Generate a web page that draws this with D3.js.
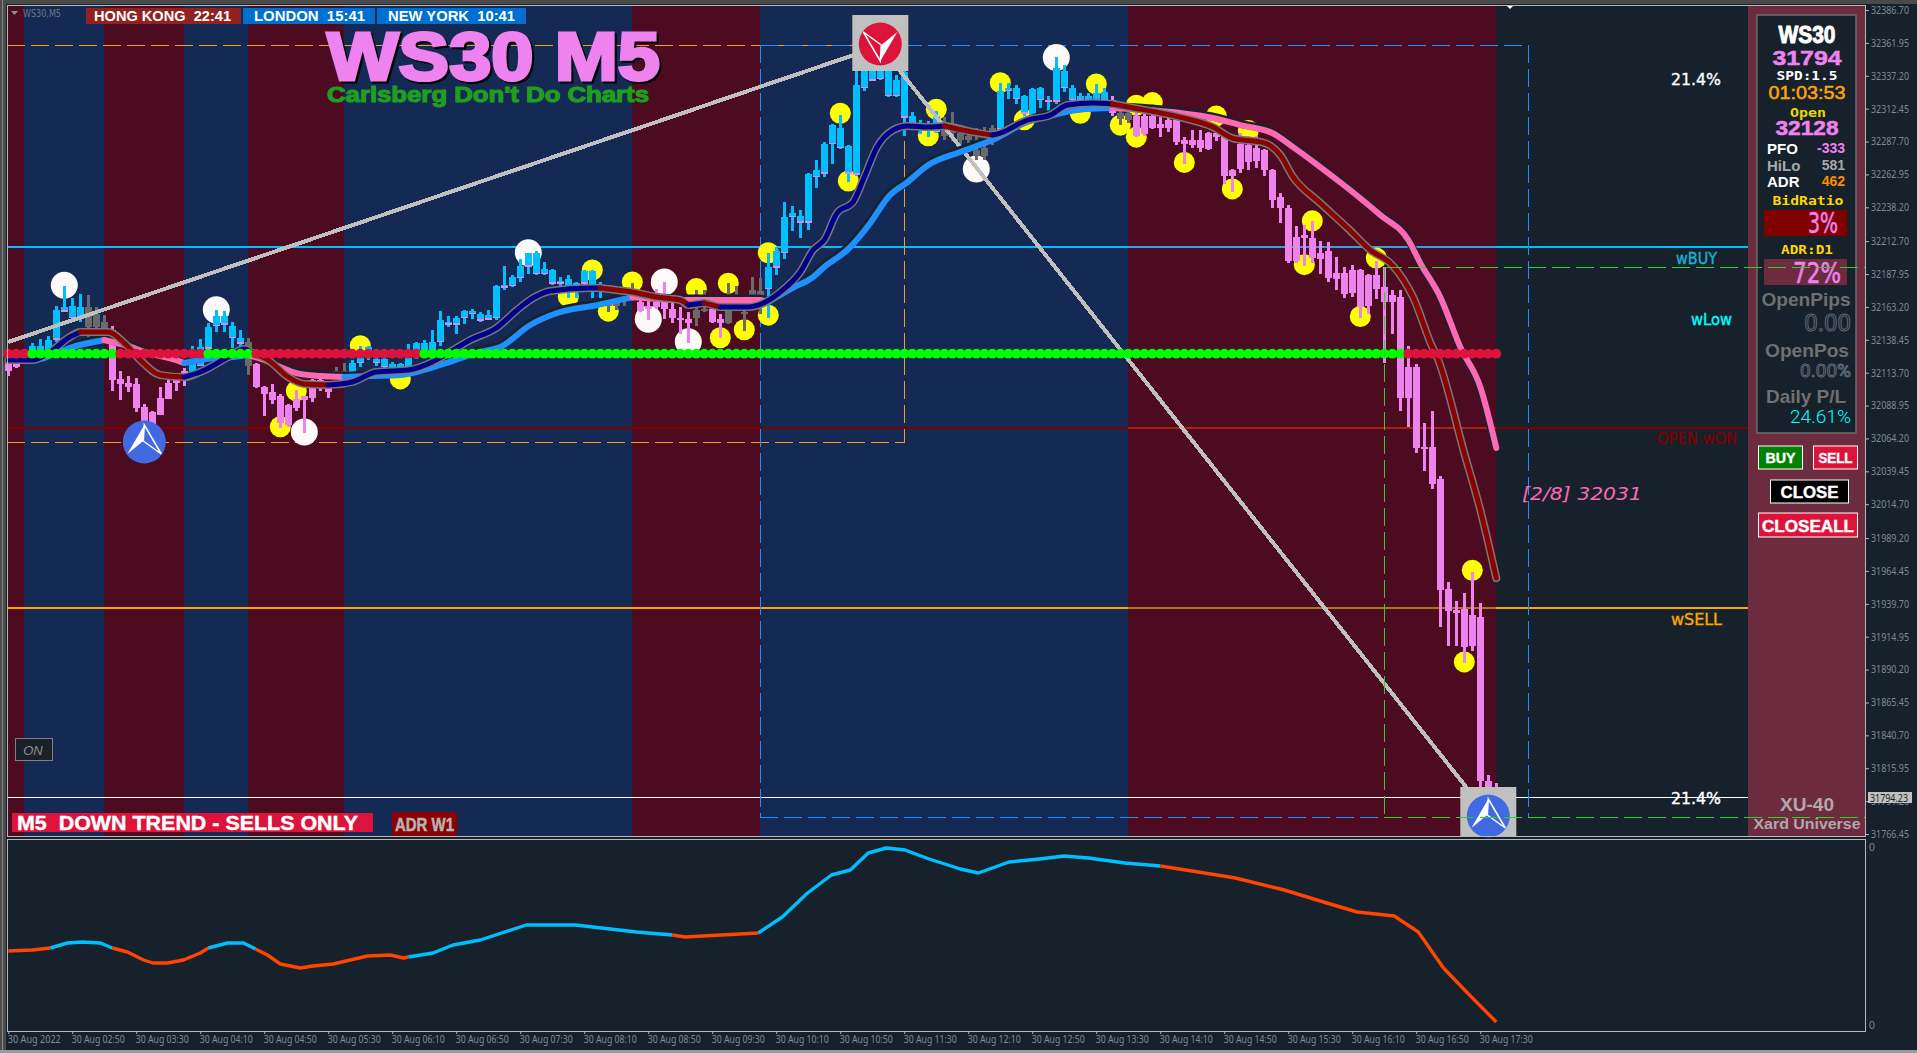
<!DOCTYPE html>
<html><head><meta charset="utf-8"><script src="https://cdn.jsdelivr.net/npm/d3@7/dist/d3.min.js"></script>
<style>html,body{margin:0;padding:0;background:#16212c;overflow:hidden}svg{display:block}text{white-space:pre}</style></head><body>
<svg id="c" width="1917" height="1053"></svg>
<script>
// ---------- data ----------
const highs=[32121,32121,32129,32136,32139,32141,32164,32179,32170,32173,
32172,32163,32157,32149,32115,32111,32110,32090,32085,32103,
32108,32113,32117,32134,32139,32151,32161,32160,32152,32146,
32140,32121,32104,32105,32098,32090,32101,32096,32109,32109,
32102,32118,32121,32123,32134,32134,32129,32127,32122,32121,
32135,32137,32138,32146,32160,32156,32156,32161,32162,32159,
32161,32180,32194,32187,32199,32204,32205,32197,32192,32186,
32187,32182,32191,32191,32182,32171,32171,32176,32181,32172,
32168,32177,32182,32166,32163,32159,32176,32176,32166,32158,
32181,32179,32164,32186,32185,32204,32208,32242,32239,32236,
32264,32274,32287,32301,32308,32285,32342,32349,32350,32350,
32350,32338,32341,32310,32304,32303,32311,32306,32310,32300,
32298,32298,32299,32300,32332,32332,32330,32323,32328,32329,
32322,32351,32345,32330,32324,32324,32331,32328,32322,32315,
32315,32311,32311,32316,32306,32307,32305,32291,32296,32296,
32295,32296,32296,32267,32294,32292,32292,32282,32267,32249,
32240,32224,32225,32228,32213,32212,32201,32193,32195,32192,
32188,32198,32193,32176,32176,32134,32120,32076,32085,32036,
31956,31942,31948,31964,31940,31811,31805];
const lows=[32111,32117,32121,32124,32125,32127,32137,32159,32153,32152,
32140,32146,32142,32100,32093,32099,32084,32069,32069,32082,
32094,32100,32104,32113,32119,32130,32144,32144,32132,32130,
32112,32102,32081,32090,32072,32073,32085,32068,32092,32100,
32095,32113,32113,32112,32118,32123,32119,32117,32115,32115,
32117,32124,32126,32127,32134,32148,32143,32150,32154,32152,
32153,32153,32176,32178,32182,32188,32187,32187,32180,32176,
32170,32170,32180,32170,32170,32159,32161,32164,32168,32159,
32153,32162,32154,32151,32143,32136,32149,32159,32151,32140,
32150,32168,32145,32171,32158,32155,32187,32199,32220,32215,
32221,32253,32261,32271,32282,32257,32262,32326,32333,32334,
32321,32321,32292,32300,32293,32291,32294,32289,32288,32286,
32286,32274,32274,32285,32296,32320,32316,32307,32306,32313,
32311,32316,32325,32317,32317,32317,32317,32317,32307,32300,
32302,32291,32292,32297,32291,32295,32285,32271,32283,32280,
32281,32288,32256,32250,32264,32266,32268,32262,32238,32226,
32196,32196,32194,32196,32188,32182,32176,32170,32171,32155,
32158,32169,32121,32143,32085,32073,32053,32040,32026,31922,
31908,31908,31895,31904,31802,31783,31788];
const opens=[32121,32121,32123,32125,32129,32130,32139,32160,32155,32155,
32163,32158,32152,32146,32109,32106,32105,32088,32084,32095,
32106,32112,32115,32113,32119,32132,32149,32150,32140,32136,
32137,32120,32103,32099,32096,32089,32094,32096,32108,32108,
32102,32115,32115,32114,32121,32126,32121,32118,32117,32117,
32118,32127,32129,32129,32137,32150,32150,32155,32158,32153,
32154,32155,32178,32179,32185,32194,32188,32188,32181,32181,
32174,32176,32181,32179,32176,32170,32170,32174,32177,32167,
32164,32167,32167,32162,32155,32154,32161,32162,32162,32154,
32160,32172,32159,32176,32175,32177,32193,32204,32231,32227,
32227,32261,32264,32286,32283,32264,32263,32328,32334,32335,
32322,32322,32306,32302,32299,32298,32295,32292,32300,32294,
32292,32281,32283,32298,32297,32326,32320,32309,32308,32319,
32318,32318,32328,32319,32319,32319,32319,32319,32319,32309,
32309,32307,32307,32307,32301,32304,32304,32289,32289,32289,
32294,32294,32292,32266,32286,32285,32283,32281,32266,32246,
32238,32216,32217,32215,32204,32205,32189,32189,32191,32191,
32187,32187,32178,32172,32171,32118,32118,32058,32058,32034,
31951,31935,31936,31931,31930,31806,31801];
const closes=[32115,32118,32127,32134,32134,32138,32161,32163,32164,32163,
32148,32148,32147,32108,32105,32103,32087,32076,32074,32082,
32094,32106,32109,32130,32133,32148,32156,32156,32149,32140,
32119,32103,32098,32093,32076,32074,32087,32093,32095,32102,
32099,32114,32113,32121,32125,32133,32124,32124,32120,32120,
32125,32136,32136,32137,32153,32152,32155,32160,32160,32158,
32157,32179,32180,32186,32194,32204,32204,32192,32191,32183,
32184,32181,32190,32190,32179,32164,32164,32168,32172,32160,
32162,32163,32162,32155,32153,32151,32155,32160,32152,32151,
32151,32168,32158,32171,32170,32193,32205,32231,32234,32232,
32263,32266,32286,32300,32298,32284,32330,32344,32345,32345,
32347,32334,32340,32307,32302,32301,32307,32300,32294,32289,
32289,32277,32277,32292,32326,32328,32328,32322,32327,32328,
32319,32343,32341,32328,32322,32322,32324,32325,32309,32305,
32304,32292,32293,32298,32298,32298,32287,32286,32285,32283,
32282,32291,32262,32262,32267,32272,32273,32266,32244,32238,
32198,32198,32215,32200,32199,32185,32184,32173,32174,32163,
32164,32177,32167,32167,32095,32095,32057,32057,32030,31950,
31934,31933,31907,31908,31806,31792,31794];
const greyBars=[10,11,12,30,41,42,75,76,77,78,86,87,90,91,92,93,94,117,118,119,120,121,122,123,139,140];

const slowBars=[0,2,4,6,8,10,12,13,15,17,19,21,22,24,26,28,30,32,34,36,39,42,45,49,51,54,57,59,61.5,65.25,68.6,73.6,78,84,88,94,95,98,100.6,102,105,107.75,110,112.4,115,119,123,127.4,130.6,133.6,138,146.5,150.6,154,158,160.6,164,167.4,171.5,175,176.5,179,181.5,184,186];
const slowEma=[32122.5,32123.2,32124,32128.5,32133,32136,32138.3,32136.8,32133.8,32129.3,32126.2,32123.2,32121,32123.2,32124.7,32125.5,32127,32123.2,32118,32113.4,32111.2,32110.4,32111.2,32112,32114.2,32119.5,32125.5,32129.3,32133,32149.6,32158.6,32164.6,32170.6,32168.4,32168.4,32168.4,32166.9,32177.4,32185.7,32193.2,32206.8,32226.4,32246,32257.2,32270,32279.8,32288.8,32302.4,32307.6,32311.4,32312.9,32309.1,32305.4,32300.1,32294.1,32283.5,32268.5,32252.7,32232.4,32213.6,32196.2,32170.6,32133,32102.9,32057];
const slowDown=[[12,22],[30,42],[78,95],[138,186]];

const fastBars=[0,3,5.25,7.5,9,12.5,14.5,16.5,19,22,24,27.5,29.5,30.5,32.5,35,37,40,43,46,50,53,55,57.75,61,63.6,65.6,67.75,72.75,74,75,78,81,84,85,87,89,92.4,94.4,96.5,99,100.6,102,103.6,105.6,107,108.6,110.6,112.4,115,117,120.6,123,124,127.4,130.25,132.4,135.6,138,140,146.4,150.6,153,157,159,160.6,164,167.4,170.25,173,175.6,178,178.6,182,184,186];
const fastEma=[32123.2,32123.2,32129.3,32139.8,32144.3,32144.3,32136,32123.2,32111.9,32110.4,32114.2,32125.5,32131.5,32128.5,32123.2,32110.4,32105.2,32104.4,32106.7,32114.2,32115.7,32121.7,32128.5,32138.3,32147.3,32160.9,32169.9,32175.2,32177.4,32177.4,32176.7,32174.4,32170.6,32168.4,32164.6,32166.1,32163.1,32163.1,32166.1,32174.4,32189.5,32206,32213.6,32233.9,32242.2,32261,32283.5,32296.3,32299.4,32298.6,32299.4,32294.8,32292.6,32294.1,32303.9,32307.6,32315.2,32316.7,32315.9,32313.7,32306.1,32298.6,32290.3,32286.6,32277.5,32261,32241.4,32222.6,32206,32194.7,32170.6,32133,32125.5,32053.2,32010.3,31959.1];
const fastDown=[[9,22],[30.5,40],[74,85],[87,89],[117,123],[138,186]];

const signalLevel=32128;
const greenRuns=[[3,13],[25,30],[52,174]];
const lastBar=186;

const whiteBars=[7,26,37,65,82,80,85,131,121];
const whitePrices=[32179.5,32161,32069,32204,32182,32154,32137,32351,32267];
const yellowBars=[44,49,36,34,73,70,75,78,86,90,89,92,95,95,104,105,115,116,124,127,134,136,139,141,141,143,151,155,147,153,163,162,171,169,183,182];
const yellowPrices=[32134,32109,32100,32073,32191,32171,32160,32182,32177,32181,32140,32146,32204,32157,32309,32258,32292,32312,32332,32304,32309,32331,32300,32291,32315,32317,32307,32296,32272,32252,32228,32195,32200,32156,31965,31896];

const zigzagBars=[0,109,185];
const zigzagPrices=[32136.8,32359.6,31780.7];

const bandEdges=[0,2,12,22,30,42,78,94,140,186];
const bandKinds=["red","navy","red","navy","red","navy","red","navy","red"];

const priceTicks=[32386.70,32361.95,32337.20,32312.45,32287.70,32262.95,32238.20,32212.70,32187.95,32163.20,32138.45,32113.70,32088.95,32064.20,32039.45,32014.70,31989.20,31964.45,31939.70,31914.95,31890.20,31865.45,31840.70,31815.95,31791.20,31766.45];
const timeLabels=["30 Aug 2022","30 Aug 02:50","30 Aug 03:30","30 Aug 04:10","30 Aug 04:50","30 Aug 05:30","30 Aug 06:10","30 Aug 06:50","30 Aug 07:30","30 Aug 08:10","30 Aug 08:50","30 Aug 09:30","30 Aug 10:10","30 Aug 10:50","30 Aug 11:30","30 Aug 12:10","30 Aug 12:50","30 Aug 13:30","30 Aug 14:10","30 Aug 14:50","30 Aug 15:30","30 Aug 16:10","30 Aug 16:50","30 Aug 17:30"];

const oscBars=[0,3,5.25,7.4,9.25,11.5,13,14.9,16.9,18.1,19.9,21.9,24,25,27.4,29.4,30.9,32.4,34,36.5,38.1,40.6,44.9,47.75,49.4,50,53.1,55.6,59,64.75,70.9,78.5,83,84.6,89.1,93.75,96.75,99.9,102.9,105.25,107.5,109.75,112.1,115.1,119,121.25,125.1,128.9,132,135,139.6,144,148.75,153.4,159.5,164,168.6,173.25,176.25,179.4,182.4,186];
const oscValues=[74,75,77,82,83,82,77,73,65,62,62,65,72,77,82,82,76,70,61,57,59,61,69,70,67,68,72,80,85,100,100,93,90,88,90,92,108,132,150,155,172,177,175,166,156,152,163,166,169,167,162,159,153,147,135,124,113,109,93,57,32,3];
const oscDown=[[0,5.25],[13,25],[30.9,50],[83,93.75],[144,186]];

const levelBuy=32208.3, levelOpen=32072, levelSell=31936.5, levelBid=31794.23;
const orangeBoxTop=32360.3, orangeBoxBottom=32060.8, orangeBoxBar=112;
const blueBoxBars=[94,190], blueBoxPrices=[32360.3,31779.2];
const greenBoxBar=172, greenBoxPrices=[32192.5,31779.2];

// ---------- scales ----------
const svg=d3.select("#c");
const X=d3.scaleLinear().domain([0,lastBar]).range([8.3,1496.3]);
const Y=d3.scaleLinear().domain([31766.45,32386.70]).range([834,10]);
const SubY=d3.scaleLinear().domain([0,178]).range([1025,847]);
const BG="#16212c",VIOLET="#ee82ee",SKY="#00bfff",CRIMSON="#dc143c",PANEL="#6d2b3f";
const SANS="'Liberation Sans',Arial,sans-serif",MONO="'DejaVu Sans Mono',monospace",DJ="'DejaVu Sans',sans-serif";

function T(g,s,x,y,o={}){const t=g.append("text").text(s).attr("x",x).attr("y",y)
 .attr("dominant-baseline","central").attr("font-family",o.font||SANS).attr("font-size",o.size||12)
 .attr("font-weight",o.weight||"bold").attr("fill",o.fill||"#fff").attr("text-anchor",o.anchor||"start");
 if(o.italic)t.attr("font-style","italic");
 if(o.len)t.attr("textLength",o.len).attr("lengthAdjust","spacingAndGlyphs");
 if(o.stroke)t.attr("stroke",o.stroke).attr("stroke-width",o.sw||1);
 return t;}
function R(g,x,y,w,h,fill,o={}){const r=g.append("rect").attr("x",x).attr("y",y).attr("width",w).attr("height",h).attr("fill",fill);
 if(o.stroke)r.attr("stroke",o.stroke).attr("stroke-width",o.sw||1);if(o.rx)r.attr("rx",o.rx);return r;}
function L(g,x1,y1,x2,y2,c,w,d){const l=g.append("line").attr("x1",x1).attr("y1",y1).attr("x2",x2).attr("y2",y2).attr("stroke",c).attr("stroke-width",w).attr("shape-rendering","crispEdges");if(d)l.attr("stroke-dasharray",d);return l;}

R(svg,0,0,1917,1053,BG);
// window frame
R(svg,0,0,6,1053,"#4a4a4a");R(svg,0,0,1917,4,"#4a4a4a");R(svg,2,0,1,1053,"#8a8a8a");
R(svg,0,1050,1917,3,"#9a9a9a");

// bands
const bands=svg.append("g").attr("shape-rendering","crispEdges");
bandKinds.forEach((k,i)=>{R(bands,X(bandEdges[i])-(i==0?1.3:0.3),6,X(bandEdges[i+1])-X(bandEdges[i])+(i==0?1:0),830,k=="red"?"#4c0b20":"#142a55");});

// levels (solid) and the section over the last session
const px=1748, pl=7;
[[levelBuy,SKY,2,"#2f9fe8"],[levelOpen,"#800000",2,"#a82410"],[levelSell,"#ffa500",2,"#a87a10"],[levelBid,"#ffffff",1,"#ffffff"]].forEach(d=>{
 const y=Math.round(Y(d[0]));L(svg,pl,y,px,y,d[1],d[2]);L(svg,X(bandEdges[8]),y,X(186),y,d[3],d[2]);});

// orange box
const od="18,6";
L(svg,pl,Y(orangeBoxTop),X(orangeBoxBar),Y(orangeBoxTop),"#f0a020",1,od);
L(svg,pl,Y(orangeBoxBottom),X(orangeBoxBar),Y(orangeBoxBottom),"#f0a020",1,od);
L(svg,X(orangeBoxBar),Y(orangeBoxTop),X(orangeBoxBar),Y(orangeBoxBottom),"#f0a020",1,od);
// blue box
const bx0=X(blueBoxBars[0]),bx1=X(blueBoxBars[1]),by0=Y(blueBoxPrices[0]),by1=Y(blueBoxPrices[1]);
[[bx0,by0,bx1,by0],[bx0,by1,bx1,by1],[bx0,by0,bx0,by1],[bx1,by0,bx1,by1]].forEach(a=>L(svg,a[0],a[1],a[2],a[3],"#1e90ff",1,od));

// signal circles
const marks=svg.append("g");
marks.selectAll(".y").data(yellowBars).join("circle").attr("cx",d=>X(d)).attr("cy",(d,i)=>Y(yellowPrices[i])).attr("r",10.5).attr("fill","#ffff00");
marks.selectAll(".w").data(whiteBars).join("circle").attr("cx",d=>X(d)).attr("cy",(d,i)=>Y(whitePrices[i])).attr("r",13.5).attr("fill","#fffafa");

// candles
const cg=svg.append("g").attr("shape-rendering","crispEdges");
d3.range(highs.length).forEach(i=>{
 const grey=greyBars.includes(i), up=closes[i]>opens[i];
 const col=grey?"#6a6a6a":(up?SKY:VIOLET);
 const x=Math.round(X(i));
 const top=Y(Math.max(opens[i],closes[i])), bot=Y(Math.min(opens[i],closes[i]));
 R(cg,x-1,Y(highs[i]),3,Math.max(1,Y(lows[i])-Y(highs[i])),col);
 R(cg,x-3,top,7,Math.max(2,bot-top),col);
 if(up&&!grey)R(cg,x-3,bot-1,7,1.5,VIOLET);
});

// zigzag
svg.append("path").attr("fill","none").attr("stroke","#c0c0c0").attr("stroke-width",4).attr("shape-rendering","crispEdges")
 .attr("d",d3.line().x(d=>X(d)).y((d,i)=>Y(zigzagPrices[i]))(zigzagBars));

// averages
function segs(bars,vals,ranges){
 const pts=bars.map((b,i)=>[b,vals[i]]);const out=[];let cur=bars[0];
 ranges.forEach(r=>{
  if(r[0]>cur)out.push({down:false,p:pts.filter(p=>p[0]>=cur&&p[0]<=r[0])});
  out.push({down:true,p:pts.filter(p=>p[0]>=r[0]&&p[0]<=r[1])});cur=r[1];});
 if(cur<bars[bars.length-1])out.push({down:false,p:pts.filter(p=>p[0]>=cur)});
 return out;}
const ln=d3.line().x(p=>X(p[0])).y(p=>Y(p[1])).curve(d3.curveMonotoneX);
const ema=svg.append("g").attr("fill","none").attr("stroke-linecap","round").attr("stroke-linejoin","round");
ema.append("path").attr("d",ln(slowBars.map((b,i)=>[b,slowEma[i]]))).attr("stroke","#18222c").attr("stroke-width",8).attr("transform","translate(-1,-1.5)");
segs(slowBars,slowEma,slowDown).forEach(s=>ema.append("path").attr("d",ln(s.p)).attr("stroke",s.down?"#ff69b4":"#1e90ff").attr("stroke-width",6));
ema.append("path").attr("d",ln(fastBars.map((b,i)=>[b,fastEma[i]]))).attr("stroke","#787878").attr("stroke-width",8);
segs(fastBars,fastEma,fastDown).forEach(s=>ema.append("path").attr("d",ln(s.p)).attr("stroke",s.down?"#8b0000":"#00008b").attr("stroke-width",5));

// dots
const isGreen=i=>greenRuns.some(r=>i>=r[0]&&i<=r[1]);
svg.append("g").selectAll("circle").data(d3.range(lastBar+1)).join("circle").attr("cx",d=>X(d)).attr("cy",Y(signalLevel)).attr("r",4.9)
 .attr("fill",d=>isGreen(d)?"#00ff00":CRIMSON);

// icons
function icon(g,cx,cy,col,flip,square){
 if(square)R(g,cx-28,cy-29,56,square,"#c0c0c0");
 g.append("circle").attr("cx",cx).attr("cy",cy).attr("r",21.5).attr("fill",col);
 const s=flip?-1:1,P=(a,b)=>[cx+a*s,cy+b*s].join(",");
 g.append("polygon").attr("points",[P(0,-17),P(-17,12),P(-1,-1)].join(" ")).attr("fill","#fff");
 g.append("polygon").attr("points",[P(0,-17),P(17,12),P(-1,-1)].join(" ")).attr("fill","none").attr("stroke","#fff").attr("stroke-width",1.5);
}
icon(svg,X(109),44,CRIMSON,true,56);
icon(svg,X(17),442,"#4169e1",false,0);
icon(svg,X(185),816,"#4169e1",false,50);

// window texts
svg.append("polygon").attr("points","11,11 18,11 14.5,15").attr("fill","#909090");
T(svg,"WS30,M5",23,13,{size:10,weight:"normal",fill:"#6f7680",len:38,font:DJ});
R(svg,86,8,155,16,"#922222");T(svg,"HONG KONG  22:41",94,16,{size:14,len:137});
R(svg,243,8,132,16,"#0070d0");T(svg,"LONDON  15:41",254,16,{size:14,len:111});
R(svg,377,8,149,16,"#0070d0");T(svg,"NEW YORK  10:41",388,16,{size:14,len:127});
T(svg,"WS30 M5",327,56,{size:68,fill:VIOLET,len:333,stroke:VIOLET,sw:3.2}).style("filter","drop-shadow(2px 2px 0 #000)");
T(svg,"Carlsberg Don't Do Charts",327,94,{size:22,fill:"#1f9e1f",len:322,stroke:"#1f9e1f",sw:1.1});
const lab={weight:"normal",font:DJ,sw:.35};
T(svg,"21.4%",1671,79,{...lab,size:16,fill:"#fff",stroke:"#fff",len:50});
T(svg,"21.4%",1671,798,{...lab,size:16,fill:"#fff",stroke:"#fff",len:50});
T(svg,"wBUY",1676,259,{...lab,size:15,fill:"#18b4d8",stroke:"#18b4d8",len:41});
T(svg,"wLow",1691,320,{...lab,size:15,fill:"#00ffff",stroke:"#00ffff",len:41});
T(svg,"OPEN wON",1657,439,{...lab,size:15,fill:"#800000",stroke:"#800000",len:80});
T(svg,"wSELL",1671,620,{...lab,size:15,fill:"#ffa500",stroke:"#ffa500",len:51});
T(svg,"[2/8] 32031",1522,493,{size:18,fill:"#ff69b4",weight:"normal",italic:true,font:DJ,len:120});

R(svg,12,813,361,19,CRIMSON);T(svg,"M5  DOWN TREND - SELLS ONLY",17,823,{size:20,len:341,stroke:"#fff",sw:.4});
R(svg,392,812,65,24,"#8b0000",{rx:3});T(svg,"ADR W1",395,824.5,{size:18,fill:"#b4b4b4",len:59,font:"'Liberation Sans Narrow','Liberation Sans',sans-serif",stroke:"#b4b4b4",sw:.5});
R(svg,15.5,738.5,37,22,"#1a2028",{stroke:"#808080"});T(svg,"ON",33,750,{size:13,fill:"#909090",weight:"normal",italic:true,anchor:"middle"});

// right panel
const p=svg.append("g");
R(p,1748,6,117,830,PANEL);
R(p,1757,15,99,418,BG,{stroke:"#6c6c6c",sw:1.5});
const C=1807;
T(p,"WS30",C,34,{size:24,anchor:"middle",len:57,font:"'Liberation Sans Narrow','Liberation Sans',sans-serif",stroke:"#fff",sw:1});
T(p,"31794",C,57,{size:21,anchor:"middle",fill:VIOLET,len:69,stroke:VIOLET,sw:.5});
T(p,"SPD:1.5",C,75,{size:13,anchor:"middle",font:MONO,len:61});
T(p,"01:03:53",C,93,{size:18,anchor:"middle",fill:"#ffa500",len:77,weight:"normal",stroke:"#ffa500",sw:.5});
T(p,"Open",C+1,112,{size:13,anchor:"middle",fill:"#e8d800",font:MONO,len:36});
T(p,"32128",C,128,{size:20,anchor:"middle",fill:VIOLET,len:63,stroke:VIOLET,sw:.5});
T(p,"PFO",1767,148,{size:15});T(p,"-333",1845,148,{size:14,anchor:"end",fill:VIOLET});
T(p,"HiLo",1767,165,{size:15,fill:"#a9a9a9"});T(p,"581",1845,165,{size:14,anchor:"end",fill:"#a9a9a9"});
T(p,"ADR",1767,181,{size:15});T(p,"462",1845,181,{size:14,anchor:"end",fill:"#ff8c00"});
T(p,"BidRatio",1808,200,{size:13,anchor:"middle",fill:"#ffd700",font:MONO,len:71});
R(p,1764,210,83,26,"#800000");T(p,"3%",1823,223,{size:28,anchor:"middle",fill:VIOLET,weight:"normal",font:DJ,len:30,stroke:VIOLET,sw:.6});
T(p,"ADR:D1",C,249,{size:13,anchor:"middle",fill:"#ffd700",font:MONO,len:52});
R(p,1764,259,83,26,PANEL);T(p,"72%",1817,273,{size:28,anchor:"middle",fill:VIOLET,weight:"normal",font:DJ,len:48,stroke:VIOLET,sw:.6});
T(p,"OpenPips",1806,299,{size:19,anchor:"middle",fill:"#707070",len:89});
T(p,"0.00",1851,323,{size:24,anchor:"end",fill:"none",stroke:"#5f6a75",sw:1,weight:"normal",font:"'Roboto',sans-serif"});
T(p,"OpenPos",C,350,{size:19,anchor:"middle",fill:"#707070",len:84});
T(p,"0.00%",1851,370,{size:19,anchor:"end",fill:"none",stroke:"#5f6a75",sw:1,weight:"normal",font:"'Roboto',sans-serif"});
T(p,"Daily P/L",1806,396,{size:19,anchor:"middle",fill:"#707070",len:80});
T(p,"24.61%",1851,416,{size:19,anchor:"end",fill:"#00ffff",weight:"300",font:"'Roboto',sans-serif",len:61});
R(p,1758.5,446,44,23,"#008000",{stroke:"#fff"});T(p,"BUY",1780.5,458,{size:14,anchor:"middle",len:30,stroke:"#fff",sw:.4});
R(p,1813.5,446,44,23,CRIMSON,{stroke:"#fff"});T(p,"SELL",1835.5,458,{size:14,anchor:"middle",len:34,stroke:"#fff",sw:.4});
R(p,1770.5,480,78,23,"#000",{stroke:"#fff"});T(p,"CLOSE",1809.5,492,{size:16,anchor:"middle",len:58,stroke:"#fff",sw:.4});
R(p,1758.5,513,99,24,CRIMSON,{stroke:"#fff"});T(p,"CLOSEALL",1808,526,{size:16,anchor:"middle",len:92,stroke:"#fff",sw:.4});
T(p,"XU-40",C,804,{size:19,anchor:"middle",fill:"#b0a8aa",len:54});
T(p,"Xard Universe",C,823,{size:15,anchor:"middle",fill:"#b0a8aa",len:107});

// green box, drawn over the panel
const gx=X(greenBoxBar),gy0=Y(greenBoxPrices[0]),gy1=Y(greenBoxPrices[1]);
[[gx,gy0,1865,gy0],[gx,gy1,1865,gy1],[gx,gy0,gx,gy1]].forEach(a=>L(svg,a[0],a[1],a[2],a[3],"#32cd32",1,od));
svg.append("polygon").attr("points","1506,5 1514,5 1510,9").attr("fill","#fff");

// subwindow line
const sub=d3.line().x(p=>X(p[0])).y(p=>SubY(p[1]));
const sg=svg.append("g").attr("fill","none").attr("stroke-linejoin","round");
segs(oscBars,oscValues,oscDown).forEach(s=>sg.append("path").attr("d",sub(s.p)).attr("stroke",s.down?"#ff4500":SKY).attr("stroke-width",3.4));

// frames
const frame=svg.append("g").attr("fill","none").attr("stroke","#b8b8b8");
frame.append("rect").attr("x",7.5).attr("y",5.5).attr("width",1858).attr("height",831);
frame.append("rect").attr("x",7.5).attr("y",839.5).attr("width",1858).attr("height",192);

// axes
function styleAxis(g){g.select(".domain").remove();g.selectAll("line").attr("stroke","#b8b8b8");
 g.selectAll("text").attr("fill","#7f8a94").attr("font-family","'Noto Sans','Liberation Sans',sans-serif").attr("font-size",10.5);}
const ax=svg.append("g").attr("transform","translate(1866,0)")
 .call(d3.axisRight(Y).tickValues(priceTicks).tickFormat(d3.format(".2f")).tickSize(3).tickPadding(2));
styleAxis(ax);ax.selectAll("text").attr("textLength",38).attr("lengthAdjust","spacingAndGlyphs");
const tx=svg.append("g").attr("transform","translate(0,1031)")
 .call(d3.axisBottom(d3.scaleLinear().domain([0,lastBar]).range([8.3,1496.3])).tickValues(timeLabels.map((d,i)=>i*8)).tickFormat((d,i)=>timeLabels[i]).tickSize(3).tickPadding(2));
styleAxis(tx);tx.selectAll("text").attr("text-anchor","start").attr("dx",-1).attr("textLength",53).attr("lengthAdjust","spacingAndGlyphs");
T(svg,"0",1869,847,{size:10.5,fill:"#7f8a94",weight:"normal"});
T(svg,"0",1869,1025,{size:10.5,fill:"#7f8a94",weight:"normal"});
R(svg,1868,792,44,11,"#c0c0c0");
T(svg,"31794.23",1870,797.5,{size:10.5,fill:"#1a2228",weight:"normal",len:38,font:"'Noto Sans',sans-serif"});
</script></body></html>
